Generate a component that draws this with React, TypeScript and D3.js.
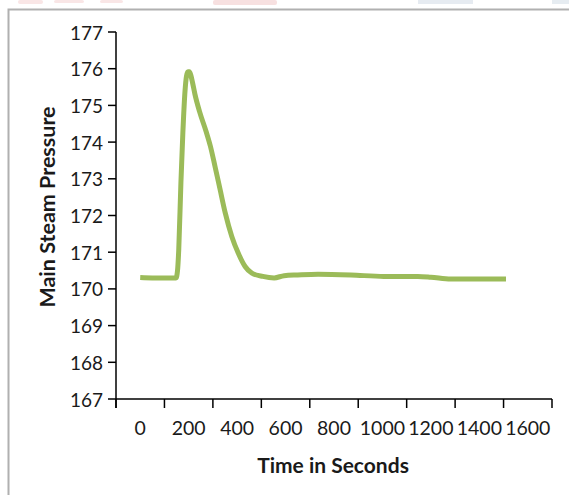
import React from "react";
import * as d3 from "d3";

const timeSeconds = [0, 50, 100, 148, 154, 159, 168, 176, 185, 191, 197, 203, 209, 216, 226, 245, 272, 290, 309, 330, 351, 378, 405, 433, 461, 506, 553, 594, 650, 734, 870, 1006, 1146, 1200, 1282, 1400, 1510];
const pressure = [170.31, 170.3, 170.3, 170.3, 170.5, 171.06, 172.9, 174.25, 175.4, 175.8, 175.92, 175.92, 175.82, 175.62, 175.3, 174.83, 174.29, 173.88, 173.33, 172.7, 172.07, 171.43, 170.97, 170.61, 170.43, 170.34, 170.3, 170.36, 170.38, 170.4, 170.38, 170.34, 170.34, 170.32, 170.27, 170.27, 170.27];
const xTickLabels = [0, 200, 400, 600, 800, 1000, 1200, 1400, 1600];
const yTickLabels = [167, 168, 169, 170, 171, 172, 173, 174, 175, 176, 177];

const W = 569;
const H = 495;
const FONT = "Lato, 'Open Sans', sans-serif";

export default function App() {
  const x = d3.scaleLinear().domain([-100, 1700]).range([116, 552]);
  const y = d3.scaleLinear().domain([167, 177]).range([399, 32]);
  const pts: [number, number][] = timeSeconds.map((t, i) => [t, pressure[i]]);
  const line = d3
    .line<[number, number]>()
    .x((d) => x(d[0]))
    .y((d) => y(d[1]))
    .curve(d3.curveMonotoneX);
  const xTickPos = d3.range(-100, 1701, 200);

  return (
    <svg
      width={W}
      height={H}
      style={{ position: "absolute", left: 0, top: 0, display: "block", background: "#fff" }}
    >
      {/* faint watermark fragments at the top */}
      <g opacity={0.35}>
        <rect x={18} y={0} width={25} height={4} rx={2} fill="#f0b8b8" />
        <rect x={54} y={0} width={30} height={3} rx={2} fill="#f0b8b8" />
        <rect x={100} y={0} width={23} height={3} rx={2} fill="#f0b8b8" />
        <rect x={213} y={0} width={64} height={5} rx={2} fill="#eba8a8" />
        <rect x={418} y={0} width={55} height={4} fill="#b8c8d8" />
        <rect x={552} y={0} width={20} height={4} fill="#b8c8d8" />
      </g>
      {/* frame */}
      <rect x={8.5} y={9.5} width={700} height={700} fill="none" stroke="#b0b0b0" strokeWidth={2} />

      {/* y axis */}
      <line x1={116} x2={116} y1={y(177)} y2={y(167) + 9} stroke="#000" strokeWidth={1.5} />
      {yTickLabels.map((v) => (
        <g key={v}>
          <line x1={108} x2={116} y1={y(v)} y2={y(v)} stroke="#000" strokeWidth={1.5} />
          <text
            x={103}
            y={y(v)}
            textAnchor="end"
            dominantBaseline="central"
            fontFamily={FONT}
            fontSize={19}
            fill="#1a1a1a"
          >
            {v}
          </text>
        </g>
      ))}

      {/* x axis */}
      <line x1={x(-100)} x2={x(1700)} y1={399} y2={399} stroke="#000" strokeWidth={1.5} />
      {xTickPos.map((t) => (
        <line key={t} x1={x(t)} x2={x(t)} y1={399} y2={408} stroke="#000" strokeWidth={1.5} />
      ))}
      {xTickLabels.map((v) => (
        <text
          key={v}
          x={x(v)}
          y={427}
          textAnchor="middle"
          dominantBaseline="central"
          fontFamily={FONT}
          fontSize={19.5}
          fill="#1a1a1a"
        >
          {v}
        </text>
      ))}

      {/* axis titles */}
      <text
        x={333}
        y={464}
        textAnchor="middle"
        dominantBaseline="central"
        fontFamily={FONT}
        fontWeight="bold"
        fontSize={21}
        fill="#1a1a1a"
      >
        Time in Seconds
      </text>
      <text
        transform={`translate(47,${207}) rotate(-90)`}
        textAnchor="middle"
        dominantBaseline="central"
        fontFamily={FONT}
        fontWeight="bold"
        fontSize={21.5}
        fill="#1a1a1a"
      >
        Main Steam Pressure
      </text>

      {/* data line */}
      <path d={line(pts) || ""} fill="none" stroke="#9bbb59" strokeWidth={5} strokeLinejoin="round" />
    </svg>
  );
}
